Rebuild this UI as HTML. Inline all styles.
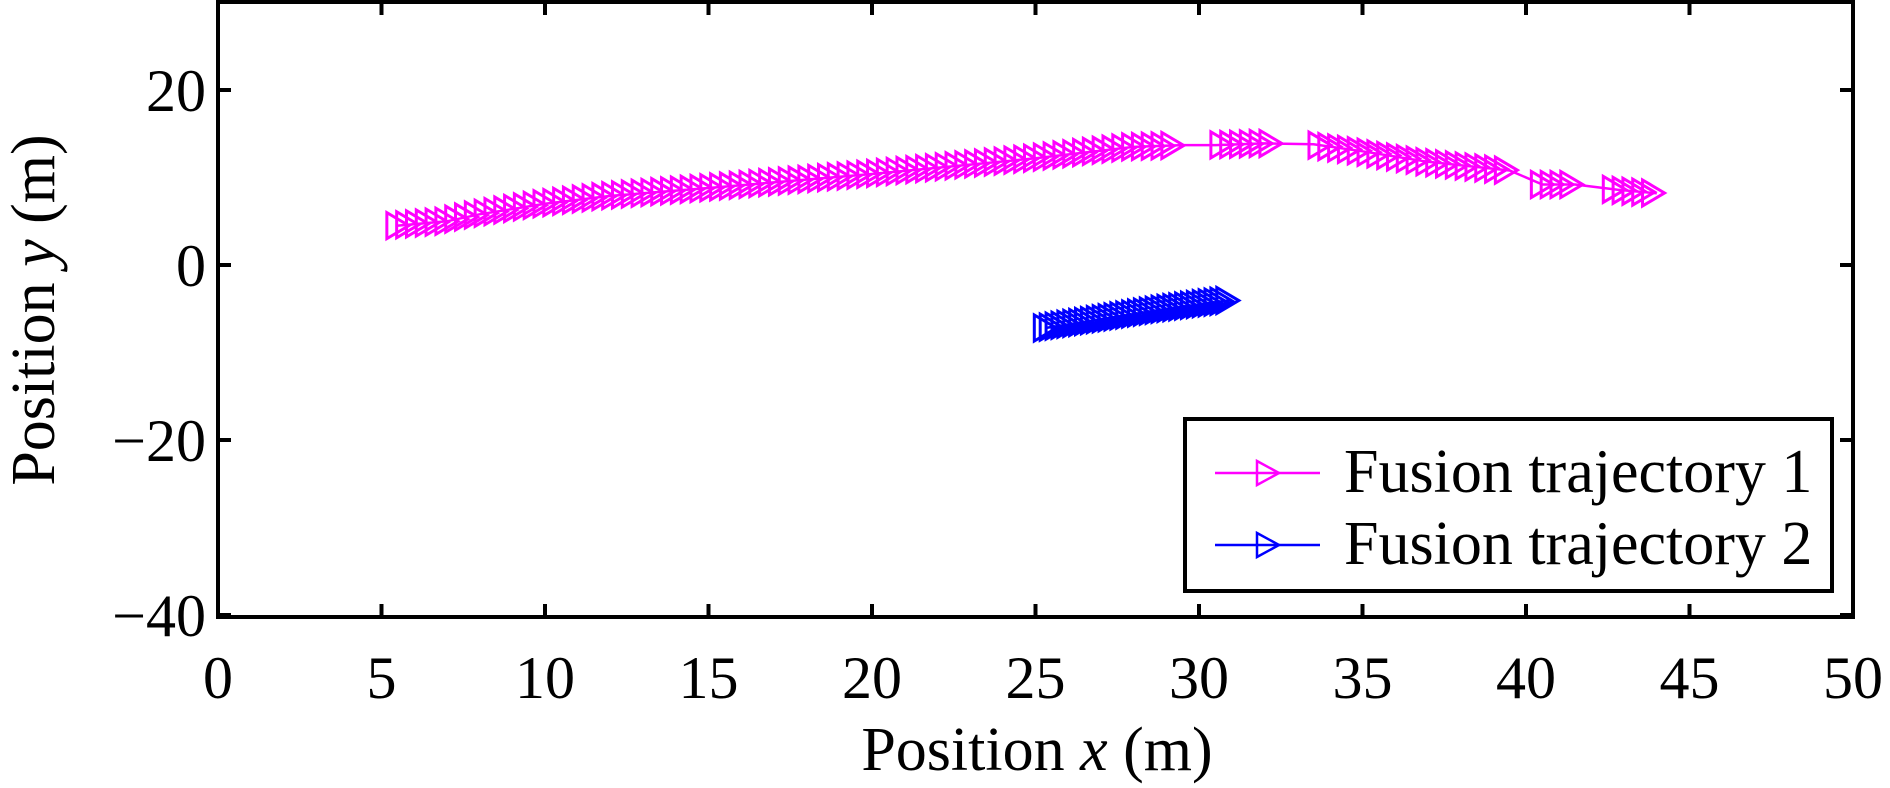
<!DOCTYPE html>
<html><head><meta charset="utf-8"><style>
html,body{margin:0;padding:0;background:#fff;}
svg{display:block;}
text{font-family:"Liberation Serif",serif;fill:#000;}
</style></head><body>
<svg id="s" width="1890" height="788" xmlns="http://www.w3.org/2000/svg">
<rect x="218" y="2" width="1635" height="615" fill="none" stroke="#000" stroke-width="4"/>
<g id="ticks" stroke="#000" stroke-width="4"></g>
<g id="data"></g>
<g font-size="60" text-anchor="middle" id="xl"></g>
<g font-size="60" text-anchor="end" id="yl"></g>
<text x="1037" y="770" font-size="62" text-anchor="middle">Position <tspan font-style="italic">x</tspan> (m)</text>
<text transform="translate(54,310) rotate(-90)" font-size="62" text-anchor="middle">Position <tspan font-style="italic">y</tspan> (m)</text>
<rect x="1185" y="419" width="647" height="172" fill="#fff" stroke="#000" stroke-width="4"/>
<line x1="1215" y1="473" x2="1320" y2="473" stroke="#ff00ff" stroke-width="2.5"/>
<path d="M1257,461 L1257,485 L1279,473 Z" fill="none" stroke="#ff00ff" stroke-width="2.5"/>
<text x="1344" y="492" font-size="62">Fusion trajectory 1</text>
<line x1="1215" y1="545" x2="1320" y2="545" stroke="#0000ff" stroke-width="2.5"/>
<path d="M1257,533 L1257,557 L1279,545 Z" fill="none" stroke="#0000ff" stroke-width="2.5"/>
<text x="1344" y="564" font-size="62">Fusion trajectory 2</text>
</svg>
<script>
var NS="http://www.w3.org/2000/svg";
function X(v){return 218+v*32.7;}
function Y(v){return 265-v*8.75;}
function el(p,t,a,txt){var e=document.createElementNS(NS,t);for(var k in a)e.setAttribute(k,a[k]);if(txt!=null)e.textContent=txt;document.getElementById(p).appendChild(e);}
for(var i=0;i<=50;i+=5){var x=X(i);el("ticks","line",{x1:x,y1:617,x2:x,y2:604});el("ticks","line",{x1:x,y1:2,x2:x,y2:15});el("xl","text",{x:x,y:698},String(i));}
[20,0,-20,-40].forEach(function(v){var y=Y(v);el("ticks","line",{x1:218,y1:y,x2:231,y2:y});el("ticks","line",{x1:1853,y1:y,x2:1840,y2:y});el("yl","text",{x:206,y:y+21},v<0?"\u2212"+(-v):String(v));});
function interp(pts,x){for(var i=0;i<pts.length-1;i++){if(x>=pts[i][0]&&x<=pts[i+1][0]){var t=(x-pts[i][0])/(pts[i+1][0]-pts[i][0]);return pts[i][1]+t*(pts[i+1][1]-pts[i][1]);}}return pts[pts.length-1][1];}
function series(pts,segs,step,col){
 var d="M"+pts.map(function(p){return X(p[0]).toFixed(1)+","+Y(p[1]).toFixed(1)}).join(" L");
 el("data","path",{d:d,fill:"none",stroke:col,"stroke-width":2.5});
 segs.forEach(function(s){for(var x=s[0];x<=s[1]+1e-6;x+=step){var y=interp(pts,x);var px=X(x),py=Y(y);
  el("data","path",{d:"M"+(px-11)+","+(py-13)+" L"+(px-11)+","+(py+13)+" L"+(px+11)+","+py+" Z",fill:"none",stroke:col,"stroke-width":3});}});
}
var p1=[[5.5,4.5],[7,5],[8,5.8],[10,7],[12,7.9],[15,8.8],[20,10.4],[25,12.2],[28,13.5],[29.5,13.7],[30.5,13.7],[32,13.9],[33.5,13.8],[35,13],[37,11.8],[39.5,10.8],[40.5,9.2],[41.5,9.2],[42.8,8.6],[44,8.2]];
series(p1,[[5.5,29.3],[30.7,32.3],[33.7,39.5],[40.5,41.5],[42.7,44]],0.3,"#ff00ff");
var p2=[[25.3,-7.2],[27,-6.2],[29,-5],[31,-4]];
series(p2,[[25.3,31]],0.18,"#0000ff");
</script>
</body></html>
